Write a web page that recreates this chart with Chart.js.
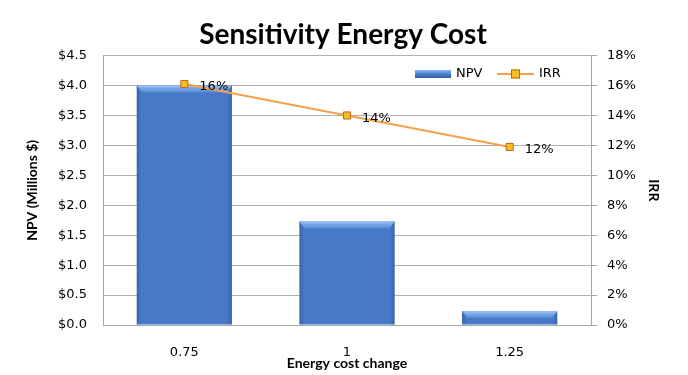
<!DOCTYPE html>
<html>
<head>
<meta charset="utf-8">
<script src="https://cdn.jsdelivr.net/npm/chart.js@4/dist/chart.umd.min.js"></script>
<style>
html,body{margin:0;padding:0;background:#fff;}
#wrap{position:relative;width:688px;height:375px;}
</style>
</head>
<body>
<div id="wrap"><canvas id="c" width="688" height="375"></canvas></div>
<script>
const categories = ['0.75', '1', '1.25'];
const npvValues = [4.0, 1.73, 0.23];
const irrValues = [16.1, 14.0, 11.9];
const irrLabels = ['16%', '14%', '12%'];
const seriesNames = ['NPV', 'IRR'];
const chartTitle = 'Sensitivity Energy Cost';
const xTitle = 'Energy cost change';
const yTitle = 'NPV (Millions $)';
const y1Title = 'IRR';

const TICK_FONT = {family: "'DejaVu Sans', Verdana, sans-serif", size: 13};
const BOLD_FONT = {family: 'Lato', size: 14, weight: 'bold'};

const barBevel = {
  id: 'barBevel',
  afterDatasetDraw(chart, args) {
    if (args.index !== 0) return;
    const ctx = chart.ctx;
    args.meta.data.forEach(el => {
      const w = el.width, x0 = el.x - w / 2, x1 = el.x + w / 2, top = el.y, bot = el.base;
      const h = bot - top;
      ctx.save();
      let g = ctx.createLinearGradient(x0, 0, x1, 0);
      g.addColorStop(0, 'rgba(30,60,120,0.35)');
      g.addColorStop(0.05, 'rgba(30,60,120,0.0)');
      g.addColorStop(0.95, 'rgba(30,60,120,0.0)');
      g.addColorStop(1, 'rgba(30,60,120,0.35)');
      ctx.fillStyle = g;
      ctx.fillRect(x0, top, w, h);
      const bh = Math.min(7, h / 2);
      let g2 = ctx.createLinearGradient(0, top, 0, top + bh);
      g2.addColorStop(0, 'rgba(160,200,250,0.95)');
      g2.addColorStop(1, 'rgba(130,175,240,0.3)');
      ctx.fillStyle = g2;
      ctx.beginPath();
      ctx.moveTo(x0, top);
      ctx.lineTo(x1, top);
      ctx.lineTo(x1 - 5, top + bh);
      ctx.lineTo(x0 + 5, top + bh);
      ctx.closePath();
      ctx.fill();
      ctx.restore();
    });
  }
};

const extras = {
  id: 'extras',
  afterDatasetsDraw(chart) {
    const ctx = chart.ctx;
    const meta = chart.getDatasetMeta(1);
    ctx.save();
    ctx.font = "13px 'DejaVu Sans', Verdana, sans-serif";
    ctx.fillStyle = '#000';
    ctx.textBaseline = 'middle';
    ctx.textAlign = 'left';
    meta.data.forEach((pt, i) => {
      ctx.fillText(irrLabels[i], pt.x + 15, pt.y + 3);
    });
    const ly = 74;
    let g = ctx.createLinearGradient(0, ly - 4, 0, ly + 4);
    g.addColorStop(0, '#8ab8f0');
    g.addColorStop(0.5, '#4a80d0');
    g.addColorStop(1, '#2e5ea8');
    ctx.fillStyle = g;
    ctx.fillRect(415, ly - 4, 36, 8);
    ctx.fillStyle = '#000';
    ctx.fillText(seriesNames[0], 456, ly);
    ctx.strokeStyle = '#f5a04a';
    ctx.lineWidth = 2;
    ctx.beginPath();
    ctx.moveTo(497, ly);
    ctx.lineTo(534, ly);
    ctx.stroke();
    ctx.fillStyle = '#f2c21a';
    ctx.strokeStyle = '#c0602a';
    ctx.lineWidth = 1;
    ctx.fillRect(511, ly - 4.5, 9, 9);
    ctx.strokeRect(511.5, ly - 4, 8, 8);
    ctx.fillStyle = '#000';
    ctx.fillText(seriesNames[1], 539, ly);
    ctx.restore();
  }
};

new Chart(document.getElementById('c'), {
  data: {
    labels: categories,
    datasets: [
      {
        type: 'bar',
        label: seriesNames[0],
        data: npvValues,
        yAxisID: 'y',
        backgroundColor: '#4679c8',
        borderWidth: 0,
        barPercentage: 0.585,
        categoryPercentage: 1,
        order: 2
      },
      {
        type: 'line',
        label: seriesNames[1],
        data: irrValues,
        yAxisID: 'y1',
        borderColor: '#f5a04a',
        borderWidth: 2,
        pointStyle: 'rect',
        pointRadius: 5,
        pointBackgroundColor: '#f2c21a',
        pointBorderColor: '#c0602a',
        pointBorderWidth: 1,
        tension: 0,
        order: 1
      }
    ]
  },
  options: {
    responsive: false,
    animation: false,
    layout: {padding: {left: 24, right: 26, top: 0, bottom: 0}},
    plugins: {
      legend: {display: false},
      tooltip: {enabled: false},
      title: {
        display: true,
        text: chartTitle,
        color: '#000',
        font: {family: 'Lato', size: 28, weight: 'bold'},
        padding: {top: 18, bottom: 4}
      }
    },
    scales: {
      x: {
        grid: {display: false, drawTicks: false},
        border: {display: true, color: '#a6a6a6', width: 1},
        ticks: {color: '#000', font: TICK_FONT, padding: 20},
        title: {display: true, text: xTitle, color: '#000', font: BOLD_FONT, padding: {top: 0, bottom: 3}},
        afterFit(s) { s.height = 50; }
      },
      y: {
        position: 'left',
        min: 0, max: 4.5,
        grid: {color: '#b0b0b0', drawTicks: false},
        border: {display: true, color: '#a6a6a6'},
        ticks: {stepSize: 0.5, color: '#000', font: TICK_FONT, padding: 16,
          callback: v => '$' + Number(v).toFixed(1)},
        title: {display: true, text: yTitle, color: '#000', font: BOLD_FONT, padding: {top: 0, bottom: 0}},
        afterFit(s) { s.width = 79; }
      },
      y1: {
        position: 'right',
        min: 0, max: 18,
        grid: {drawOnChartArea: false, color: '#a6a6a6', tickLength: 6},
        border: {display: true, color: '#a6a6a6'},
        ticks: {stepSize: 2, color: '#000', font: TICK_FONT, padding: 10,
          callback: v => v + '%'},
        title: {display: true, text: y1Title, color: '#000', font: BOLD_FONT, padding: {top: 0, bottom: 0}},
        afterFit(s) { s.width = 71; }
      }
    }
  },
  plugins: [barBevel, extras]
});
</script>
</body>
</html>
